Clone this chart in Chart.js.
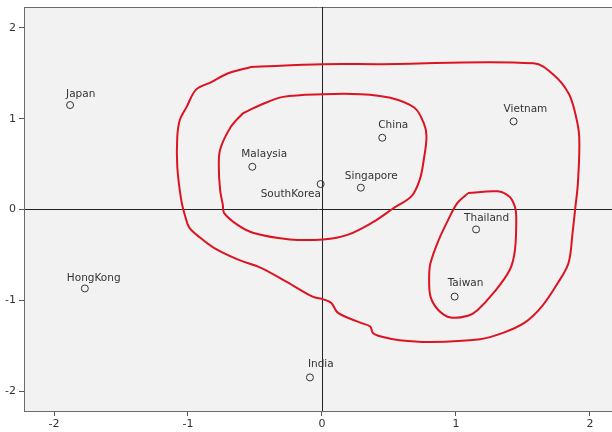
<!DOCTYPE html>
<html>
<head>
<meta charset="utf-8">
<script src="https://cdn.jsdelivr.net/npm/chart.js@4/dist/chart.umd.min.js"></script>
<style>
  html, body { margin: 0; padding: 0; background: #fff; overflow: hidden; }
  #wrap { width: 612px; height: 432px; overflow: hidden; }
</style>
</head>
<body>
<div id="wrap"><canvas id="mapChart" width="618" height="432"></canvas></div>
<script>
// Country positions (dimension 1, dimension 2)
const countries = ['Japan', 'HongKong', 'India', 'Malaysia', 'SouthKorea', 'China', 'Singapore', 'Thailand', 'Taiwan', 'Vietnam'];
const dim1 = [-1.88, -1.77, -0.09, -0.52, -0.01, 0.45, 0.29, 1.15, 0.99, 1.43];
const dim2 = [1.15, -0.87, -1.85, 0.47, 0.28, 0.79, 0.24, -0.22, -0.96, 0.97];

// hand drawn red outlines, in data units
const outerX = [-0.53, 0.01, 0.44, 1.58, 1.73, 1.84, 1.89, 1.92, 1.91, 1.89, 1.87, 1.84, 1.76, 1.64, 1.51, 1.35, 1.18, 0.81, 0.58, 0.44, 0.38, 0.36, 0.29, 0.12, 0.07, 0.01, -0.07, -0.26, -0.46, -0.63, -0.81, -0.91, -0.99, -1.02, -1.05, -1.08, -1.08, -1.06, -1.01, -0.94, -0.83, -0.70, -0.53];
const outerY = [1.57, 1.60, 1.60, 1.61, 1.48, 1.28, 1.06, 0.80, 0.29, 0.01, -0.26, -0.59, -0.81, -1.07, -1.25, -1.36, -1.43, -1.46, -1.44, -1.40, -1.36, -1.29, -1.25, -1.14, -1.03, -0.99, -0.96, -0.80, -0.64, -0.55, -0.42, -0.31, -0.20, -0.08, 0.10, 0.47, 0.80, 0.99, 1.13, 1.32, 1.40, 1.50, 1.57];
const innerX = [-0.59, -0.46, -0.29, 0.01, 0.29, 0.51, 0.69, 0.76, 0.78, 0.76, 0.73, 0.67, 0.53, 0.38, 0.19, 0.01, -0.24, -0.51, -0.63, -0.73, -0.74, -0.76, -0.77, -0.76, -0.68, -0.59];
const innerY = [1.06, 1.15, 1.24, 1.27, 1.27, 1.23, 1.12, 0.95, 0.80, 0.55, 0.33, 0.15, 0.01, -0.14, -0.28, -0.33, -0.33, -0.26, -0.17, -0.04, 0.05, 0.21, 0.47, 0.66, 0.91, 1.06];
const smallX = [1.09, 1.31, 1.40, 1.44, 1.45, 1.44, 1.40, 1.28, 1.16, 1.09, 0.96, 0.87, 0.81, 0.80, 0.81, 0.87, 0.94, 1.01, 1.09];
const smallY = [0.18, 0.20, 0.14, 0.03, -0.08, -0.45, -0.67, -0.92, -1.11, -1.17, -1.19, -1.11, -0.96, -0.74, -0.59, -0.34, -0.12, 0.07, 0.18];

const xTicks = [-2, -1, 0, 1, 2];
const yTicks = [-2, -1, 0, 1, 2];

// where each name sits relative to its circle (px: left edge, text middle)
const labelNudge = [[-4, -11], [-18, -10], [-2, -13], [-11, -13], [-60, 10], [-4, -12], [-16, -11], [-12, -11], [-7, -13], [-10, -12]];

const toPoints = (xs, ys) => xs.map((x, i) => ({ x: x, y: ys[i] }));

const outlineStyle = {
    type: 'scatter',
    showLine: true,
    borderColor: '#dc1422',
    borderWidth: 2,
    pointRadius: 0,
    tension: 0.35,
    fill: false
};

const plotFrame = {
    id: 'plotFrame',
    beforeDraw(chart) {
        const { ctx, chartArea: a } = chart;
        ctx.save();
        ctx.fillStyle = '#f2f2f2';
        ctx.fillRect(a.left, a.top, a.right - a.left, a.bottom - a.top);
        ctx.strokeStyle = '#6b6b6b';
        ctx.lineWidth = 1;
        ctx.beginPath();
        ctx.moveTo(a.left, a.top + 0.5);
        ctx.lineTo(a.right, a.top + 0.5);
        ctx.stroke();
        // reference lines through the origin
        const x0 = Math.round(chart.scales.x.getPixelForValue(0)) + 0.5;
        const y0 = Math.round(chart.scales.y.getPixelForValue(0)) + 0.5;
        ctx.strokeStyle = '#222';
        ctx.beginPath();
        ctx.moveTo(x0, a.top);
        ctx.lineTo(x0, a.bottom);
        ctx.moveTo(a.left, y0);
        ctx.lineTo(a.right, y0);
        ctx.stroke();
        ctx.restore();
    },
    afterDatasetsDraw(chart) {
        const { ctx } = chart;
        const meta = chart.getDatasetMeta(0);
        ctx.save();
        ctx.font = '10.5px "DejaVu Sans", sans-serif';
        ctx.fillStyle = '#333';
        ctx.textBaseline = 'middle';
        ctx.textAlign = 'left';
        meta.data.forEach((pt, i) => {
            ctx.fillText(countries[i], pt.x + labelNudge[i][0], pt.y + labelNudge[i][1]);
        });
        ctx.restore();
    }
};

new Chart(document.getElementById('mapChart'), {
    type: 'scatter',
    data: {
        datasets: [
            {
                label: 'Countries',
                data: toPoints(dim1, dim2),
                pointStyle: 'circle',
                pointRadius: 3.5,
                pointBorderWidth: 1,
                pointBorderColor: '#333',
                pointBackgroundColor: 'rgba(0,0,0,0)'
            },
            Object.assign({ label: 'outer', data: toPoints(outerX, outerY) }, outlineStyle),
            Object.assign({ label: 'inner', data: toPoints(innerX, innerY) }, outlineStyle),
            Object.assign({ label: 'small', data: toPoints(smallX, smallY) }, outlineStyle)
        ]
    },
    options: {
        responsive: false,
        animation: false,
        layout: { padding: { top: 7, right: 0, left: 0, bottom: 0 } },
        plugins: { legend: { display: false }, tooltip: { enabled: false } },
        scales: {
            x: {
                type: 'linear',
                min: -2.224,
                max: 2.172,
                afterBuildTicks: (s) => { s.ticks = xTicks.map(v => ({ value: v })); },
                afterFit: (s) => { s.height = 21; s.paddingLeft = 0; s.paddingRight = 0; },
                grid: { drawOnChartArea: false, drawTicks: true, tickLength: 5, color: '#555' },
                border: { display: true, color: '#6b6b6b' },
                ticks: { color: '#333', padding: 2, font: { family: 'DejaVu Sans', size: 11 } }
            },
            y: {
                type: 'linear',
                min: -2.22,
                max: 2.23,
                afterBuildTicks: (s) => { s.ticks = yTicks.map(v => ({ value: v })); },
                afterFit: (s) => { s.width = 24; s.paddingTop = 0; s.paddingBottom = 0; },
                grid: { drawOnChartArea: false, drawTicks: true, tickLength: 5, color: '#555' },
                border: { display: true, color: '#6b6b6b' },
                ticks: { color: '#333', padding: 3, font: { family: 'DejaVu Sans', size: 11 } }
            }
        }
    },
    plugins: [plotFrame]
});
</script>
</body>
</html>
